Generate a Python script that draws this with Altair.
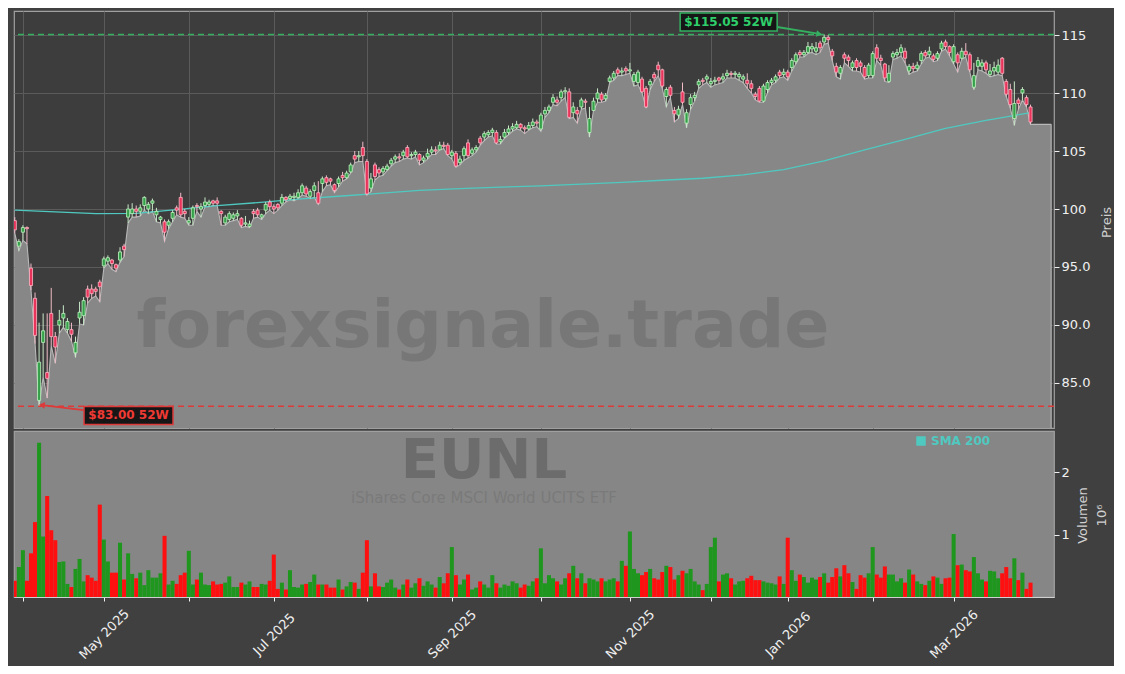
import altair as alt
import pandas as pd

# ---------------- data ----------------
OPEN = [
    99.0, 96.8, 98.0, 98.4, 94.9, 92.3, 83.5, 88.5, 85.9, 91.0,
    89.0, 90.0, 90.6, 89.6, 89.6, 87.6, 90.6, 90.8, 93.1, 93.1,
    93.1, 93.7, 95.1, 95.5, 95.6, 95.2, 95.6, 96.8, 99.3, 99.6,
    100.0, 99.8, 100.3, 100.0, 100.5, 99.5, 99.1, 98.9, 98.6, 99.2,
    100.1, 101.0, 99.8, 98.8, 99.2, 100.3, 100.0, 100.3, 100.4, 100.7,
    100.7, 99.8, 98.8, 99.1, 99.2, 99.4, 99.2, 98.7, 98.5, 99.8,
    99.9, 99.3, 99.9, 100.6, 100.2, 100.4, 100.5, 101.0, 100.9, 101.0,
    101.0, 101.4, 101.8, 101.1, 101.6, 101.4, 102.2, 102.7, 102.6, 102.1,
    102.2, 102.9, 102.7, 103.2, 104.6, 104.5, 105.3, 104.1, 101.8, 103.8,
    103.4, 103.2, 103.4, 103.9, 104.3, 104.5, 104.6, 105.3, 104.6, 104.7,
    104.7, 104.2, 104.5, 104.9, 105.1, 105.1, 105.5, 105.5, 104.6, 104.8,
    104.0, 104.6, 105.7, 104.8, 105.1, 106.1, 106.2, 106.4, 106.6, 106.6,
    105.8, 106.2, 106.6, 106.9, 107.0, 107.3, 107.0, 106.9, 107.2, 107.5,
    106.9, 108.2, 108.5, 109.2, 109.4, 109.6, 110.1, 110.1, 108.3, 108.5,
    108.8, 109.3, 106.6, 108.5, 109.5, 109.9, 109.5, 111.0, 111.3, 112.0,
    111.8, 112.1, 111.9, 111.0, 110.9, 111.2, 110.4, 110.7, 111.6, 112.4,
    112.0, 109.7, 110.5, 108.5, 108.1, 110.1, 107.4, 109.0, 109.6, 110.7,
    111.1, 111.2, 110.8, 111.0, 111.3, 111.2, 111.5, 111.7, 111.6, 111.4,
    111.2, 111.1, 110.8, 109.9, 110.4, 109.3, 110.3, 110.9, 111.1, 111.8,
    111.6, 111.8, 112.2, 112.7, 113.5, 113.3, 113.5, 113.8, 113.6, 114.3,
    114.4, 114.8, 113.6, 112.3, 111.7, 113.3, 113.1, 112.2, 112.8, 112.6,
    112.2, 111.5, 111.5, 113.9, 113.0, 112.5, 111.0, 113.1, 113.3, 113.5,
    113.6, 111.9, 112.3, 112.1, 112.8, 113.5, 113.3, 113.2, 113.0, 113.8,
    114.4, 114.0, 112.7, 113.3, 113.0, 113.6, 113.3, 110.5, 112.3, 112.3,
    112.6, 111.6, 111.9, 111.8, 113.0, 111.0, 110.3, 107.8, 109.4, 110.0,
    109.6, 108.8,
]
HIGH = [
    99.3, 97.4, 98.6, 98.5, 95.3, 92.8, 90.2, 91.0, 91.0, 93.2,
    89.4, 91.3, 91.7, 90.6, 90.2, 89.0, 92.0, 92.4, 93.4, 93.5,
    93.3, 93.9, 95.9, 96.0, 95.7, 95.3, 96.7, 97.0, 100.4, 100.5,
    100.3, 100.4, 101.1, 100.6, 100.9, 100.1, 99.4, 99.1, 99.1, 99.9,
    100.3, 101.4, 100.0, 99.3, 100.3, 100.5, 100.5, 101.0, 100.8, 100.8,
    101.0, 99.9, 99.5, 99.8, 99.7, 99.9, 99.3, 99.4, 99.0, 100.0,
    100.1, 99.6, 100.6, 100.8, 100.4, 100.5, 101.3, 101.1, 101.3, 101.4,
    101.7, 102.2, 102.0, 101.7, 102.3, 102.4, 102.8, 102.9, 102.7, 102.2,
    102.8, 103.2, 103.3, 104.0, 105.0, 105.0, 105.8, 104.3, 103.1, 104.0,
    103.6, 103.7, 103.9, 104.4, 104.7, 104.8, 105.1, 105.5, 104.9, 105.1,
    104.8, 104.6, 105.2, 105.4, 105.4, 105.8, 105.8, 105.7, 105.1, 105.0,
    104.6, 105.4, 106.0, 105.3, 105.5, 106.3, 106.7, 106.8, 107.0, 106.8,
    106.3, 106.9, 107.2, 107.4, 107.6, 107.4, 107.2, 107.5, 107.8, 107.7,
    108.3, 108.8, 109.0, 109.9, 109.7, 110.3, 110.5, 110.4, 109.2, 108.8,
    109.6, 109.5, 108.8, 109.6, 110.4, 110.1, 110.0, 111.5, 111.9, 112.2,
    112.2, 112.3, 112.6, 111.8, 112.0, 111.4, 110.6, 111.2, 111.8, 112.7,
    112.1, 110.5, 110.7, 108.8, 108.9, 110.9, 108.6, 109.9, 110.1, 111.2,
    111.3, 111.6, 111.3, 111.4, 111.4, 111.7, 112.0, 111.9, 111.9, 111.8,
    111.6, 111.7, 111.1, 110.1, 110.6, 110.8, 111.1, 111.3, 111.6, 112.0,
    112.1, 112.0, 113.0, 113.5, 113.7, 113.7, 114.4, 114.3, 114.4, 114.5,
    115.05, 115.0, 113.8, 112.6, 112.4, 113.5, 113.3, 112.8, 113.0, 112.8,
    112.4, 112.6, 113.6, 114.2, 113.3, 112.6, 112.4, 113.6, 113.8, 114.2,
    113.9, 112.5, 112.6, 112.7, 113.6, 113.7, 114.0, 113.4, 113.6, 114.5,
    114.6, 114.1, 114.2, 113.5, 113.9, 114.3, 113.5, 112.6, 113.1, 112.9,
    112.8, 112.5, 112.7, 112.9, 113.1, 111.2, 110.8, 111.0, 109.6, 110.5,
    109.8, 109.0,
]
LOW = [
    97.9, 96.4, 97.3, 97.0, 93.0, 88.4, 83.0, 85.5, 83.7, 88.2,
    86.7, 89.3, 89.8, 89.3, 88.6, 87.2, 90.1, 90.0, 91.9, 92.3,
    92.5, 92.0, 94.9, 95.3, 94.8, 94.6, 95.4, 95.9, 98.8, 99.3,
    99.3, 99.4, 99.9, 99.6, 99.8, 98.9, 98.8, 97.2, 98.3, 98.9,
    99.5, 99.3, 99.2, 98.6, 98.6, 99.8, 99.3, 100.2, 100.2, 100.3,
    100.3, 98.6, 98.6, 98.9, 99.0, 99.1, 98.4, 98.5, 98.4, 99.2,
    99.3, 99.1, 99.6, 99.9, 99.6, 99.9, 100.3, 100.6, 100.8, 100.7,
    100.9, 101.2, 101.1, 100.9, 101.0, 100.4, 101.5, 102.0, 102.1, 101.4,
    101.9, 102.4, 102.6, 103.1, 104.0, 104.1, 104.1, 101.2, 101.5, 102.5,
    102.8, 102.9, 103.3, 103.7, 104.0, 104.1, 104.3, 104.4, 104.3, 104.5,
    103.8, 104.0, 104.3, 104.7, 104.7, 105.1, 105.2, 104.6, 104.3, 103.6,
    103.8, 104.2, 104.4, 104.6, 104.9, 105.5, 105.9, 106.2, 106.3, 105.6,
    105.6, 106.1, 106.4, 106.7, 106.9, 106.8, 106.5, 106.8, 107.0, 107.1,
    106.7, 107.9, 108.3, 109.0, 108.9, 109.3, 109.6, 107.8, 107.9, 107.4,
    108.6, 108.7, 106.2, 108.5, 109.2, 109.2, 109.3, 110.9, 111.1, 111.5,
    111.5, 111.6, 111.7, 110.6, 110.7, 110.0, 108.7, 110.3, 111.0, 111.5,
    110.4, 108.8, 109.6, 107.5, 107.8, 109.0, 107.0, 108.6, 109.3, 110.4,
    110.7, 110.9, 110.5, 110.7, 110.8, 110.9, 111.3, 111.3, 111.3, 111.1,
    110.9, 110.4, 110.0, 109.4, 109.2, 109.2, 110.0, 110.7, 110.9, 111.3,
    111.4, 111.1, 111.9, 112.5, 113.1, 113.1, 113.4, 113.5, 113.3, 113.5,
    114.2, 114.3, 112.8, 111.4, 111.2, 112.6, 112.3, 111.9, 111.9, 111.8,
    111.2, 111.3, 111.3, 112.8, 112.4, 111.0, 110.9, 112.9, 113.0, 113.2,
    112.6, 111.6, 111.8, 111.9, 112.5, 113.0, 113.1, 112.7, 112.8, 113.6,
    113.8, 113.2, 112.5, 111.8, 112.9, 113.1, 111.8, 110.3, 112.0, 111.9,
    111.7, 111.4, 111.5, 111.6, 111.5, 109.7, 108.7, 107.2, 108.6, 109.4,
    108.8, 107.3,
]
CLOSE = [
    98.2, 97.2, 98.4, 98.3, 93.4, 89.1, 86.8, 89.5, 85.4, 89.0,
    88.1, 90.4, 91.0, 90.3, 89.2, 88.5, 91.1, 92.1, 92.4, 92.7,
    92.9, 93.3, 95.7, 95.8, 95.3, 94.9, 96.3, 96.5, 100.0, 100.0,
    99.8, 100.1, 101.0, 100.4, 100.7, 99.8, 99.3, 98.0, 98.9, 99.7,
    99.9, 99.5, 99.6, 99.0, 100.1, 100.2, 100.2, 100.6, 100.6, 100.5,
    100.5, 99.6, 99.3, 99.6, 99.5, 99.6, 98.6, 98.8, 98.7, 99.6,
    99.5, 99.5, 100.4, 100.2, 100.0, 100.1, 101.0, 100.8, 101.1, 101.1,
    101.4, 102.0, 101.3, 101.5, 102.0, 100.5, 102.6, 102.3, 102.4, 101.6,
    102.6, 102.7, 103.1, 103.8, 104.3, 104.6, 104.6, 101.3, 102.6, 102.8,
    103.1, 103.5, 103.7, 104.2, 104.5, 104.4, 104.9, 104.5, 104.7, 104.9,
    104.2, 104.4, 104.8, 105.1, 105.0, 105.5, 105.4, 104.7, 104.9, 103.7,
    104.3, 105.2, 104.6, 105.1, 105.3, 105.7, 106.5, 106.6, 106.8, 105.7,
    106.0, 106.6, 106.9, 107.1, 107.3, 107.0, 106.9, 107.2, 107.5, 107.4,
    108.1, 108.5, 108.8, 109.6, 109.2, 110.1, 110.2, 107.9, 108.8, 108.2,
    109.4, 109.2, 107.8, 109.3, 110.0, 109.4, 109.8, 111.3, 111.7, 111.7,
    111.9, 111.9, 112.0, 111.6, 111.8, 110.1, 108.8, 111.0, 111.3, 112.0,
    110.6, 110.3, 109.8, 108.2, 108.6, 109.2, 108.3, 109.6, 109.8, 111.0,
    111.0, 111.4, 111.0, 111.1, 111.1, 111.4, 111.7, 111.6, 111.7, 111.6,
    111.4, 110.8, 110.4, 109.7, 109.3, 110.6, 110.9, 111.1, 111.4, 111.5,
    111.8, 111.4, 112.8, 113.3, 113.3, 113.5, 114.0, 114.0, 113.9, 113.9,
    114.8, 114.6, 113.2, 111.8, 112.2, 113.0, 112.8, 112.6, 112.2, 112.3,
    111.4, 112.4, 113.4, 113.0, 112.8, 111.3, 111.7, 113.4, 113.5, 113.9,
    113.0, 112.3, 112.1, 112.4, 113.4, 113.2, 113.6, 112.9, 113.4, 114.3,
    114.0, 113.5, 114.0, 112.6, 113.6, 113.3, 112.0, 111.5, 112.8, 112.6,
    112.0, 111.9, 112.2, 112.4, 111.7, 109.9, 109.0, 109.1, 109.1, 110.3,
    109.0, 107.5,
]
VOLUME_M = [
    0.26, 0.48, 0.75, 0.26, 0.70, 1.20, 2.47, 0.97, 1.62, 1.07,
    0.91, 0.56, 0.57, 0.21, 0.16, 0.45, 0.61, 0.25, 0.35, 0.31,
    0.26, 1.48, 0.92, 0.57, 0.39, 0.39, 0.87, 0.28, 0.70, 0.37,
    0.30, 0.39, 0.19, 0.43, 0.31, 0.31, 0.38, 0.98, 0.20, 0.26,
    0.21, 0.35, 0.39, 0.74, 0.20, 0.28, 0.39, 0.20, 0.19, 0.25,
    0.20, 0.21, 0.23, 0.33, 0.16, 0.16, 0.23, 0.20, 0.25, 0.16,
    0.16, 0.21, 0.20, 0.26, 0.68, 0.13, 0.23, 0.12, 0.43, 0.16,
    0.15, 0.20, 0.21, 0.24, 0.36, 0.20, 0.20, 0.20, 0.15, 0.15,
    0.28, 0.12, 0.17, 0.24, 0.23, 0.13, 0.39, 0.91, 0.17, 0.38,
    0.17, 0.16, 0.23, 0.28, 0.15, 0.12, 0.20, 0.28, 0.15, 0.22,
    0.30, 0.18, 0.25, 0.20, 0.15, 0.32, 0.22, 0.38, 0.80, 0.35,
    0.20, 0.28, 0.36, 0.12, 0.15, 0.25, 0.20, 0.15, 0.35, 0.22,
    0.15, 0.20, 0.18, 0.25, 0.22, 0.15, 0.20, 0.18, 0.25, 0.30,
    0.78, 0.22, 0.35, 0.30, 0.25, 0.20, 0.30, 0.38, 0.50, 0.30,
    0.38, 0.22, 0.30, 0.28, 0.25, 0.30, 0.25, 0.28, 0.30, 0.25,
    0.58, 0.50, 1.05, 0.45, 0.38, 0.35, 0.40, 0.45, 0.30, 0.28,
    0.40, 0.50, 0.48, 0.28, 0.35, 0.42, 0.38, 0.45, 0.25, 0.20,
    0.11, 0.21, 0.80, 0.95, 0.25, 0.36, 0.38, 0.30, 0.20, 0.25,
    0.26, 0.30, 0.34, 0.27, 0.27, 0.25, 0.23, 0.22, 0.20, 0.33,
    0.21, 0.95, 0.43, 0.26, 0.36, 0.32, 0.23, 0.31, 0.28, 0.32,
    0.38, 0.23, 0.32, 0.46, 0.33, 0.51, 0.38, 0.24, 0.13, 0.35,
    0.31, 0.38, 0.80, 0.36, 0.31, 0.49, 0.36, 0.36, 0.25, 0.30,
    0.23, 0.44, 0.36, 0.25, 0.21, 0.19, 0.26, 0.33, 0.31, 0.21,
    0.30, 0.31, 1.01, 0.51, 0.52, 0.43, 0.41, 0.64, 0.38, 0.28,
    0.25, 0.42, 0.41, 0.30, 0.38, 0.48, 0.30, 0.62, 0.27, 0.39,
    0.13, 0.23,
]
SMA_IDX = [0, 10, 20, 30, 40, 50, 60, 70, 80, 90, 100, 110, 120, 130, 140,
           150, 160, 170, 180, 190, 200, 210, 220, 230, 240, 251]
SMA_VAL = [99.9, 99.75, 99.6, 99.62, 99.95, 100.3, 100.55, 100.85, 101.1, 101.35,
           101.6, 101.75, 101.88, 102.0, 102.15, 102.3, 102.48, 102.65, 102.95, 103.4,
           104.15, 105.1, 106.0, 106.95, 107.65, 108.3]

FIRST_DAY = "2025-03-28"
HOLIDAYS = ["2025-04-18", "2025-04-21", "2025-05-01", "2025-10-03", "2025-12-24",
            "2025-12-25", "2025-12-26", "2025-12-31", "2026-01-01"]
MONTHS = ["2025-04-01", "2025-05-01", "2025-06-01", "2025-07-01", "2025-08-01",
          "2025-09-01", "2025-10-01", "2025-11-01", "2025-12-01", "2026-01-01",
          "2026-02-01", "2026-03-01"]
MONTH_LABELS = ["", "May 2025", "", "Jul 2025", "", "Sep 2025", "", "Nov 2025",
                "", "Jan 2026", "", "Mar 2026"]
PRICE_TICKS = [85, 90, 95, 100, 105, 110, 115]
VOL_TICKS = [1, 2]
TICKER = "EUNL"
NAME = "iShares Core MSCI World UCITS ETF"
SITE = "forexsignale.trade"

# ---------------- styles / layout ----------------
FONT = "DejaVu Sans"
BG = "#404040"
PLOT_BG = "#3d3d3d"
GRID = "#5b5b5b"
FRAME = "#a0a0a0"
AREA = "#878787"
AREA_LINE = "#b8b8b8"
UP_FILL, UP_EDGE, UP_WICK = "#35a04a", "#c2f5c2", "#c8e8c8"
DN_FILL, DN_EDGE, DN_WICK = "#e8335a", "#ffb6c4", "#efbcc8"
SMA_C = "#4fc9c0"
HI_C, HI_TXT = "#35b060", "#2fcf6b"
LO_C, LO_TXT = "#dd3a3a", "#ee3a34"
VOL_BG = "#868686"
VG, VR = "#1f971f", "#ff1010"
TXT = "#f0f0f0"

W, HP, HV = 1040, 417, 166
X_DOM = [-0.2, 256.8]
P_DOM = [81.12, 117.07]
V_DOM = [0, 2.66]
AREA_END = 256.1
HI_BOX = (176.4, 116.12)
LO_BOX = (28.1, 82.2)
HI_ARROW = (188.4, 115.69, 198.8, 115.09)
LO_ARROW = (17.0, 82.67, 6.7, 83.1)

# ---------------- derived tables ----------------
N = len(CLOSE)
dates = pd.bdate_range(FIRST_DAY, periods=N, freq="C", holidays=HOLIDAYS)
df = pd.DataFrame({"i": list(range(N)), "o": OPEN, "h": HIGH, "l": LOW,
                   "c": CLOSE, "v": VOLUME_M})

tick_idx = [int((dates >= pd.Timestamp(m)).argmax()) for m in MONTHS]
label_expr = "''"
for k, lab in reversed(list(zip(tick_idx, MONTH_LABELS))):
    label_expr = f"datum.value == {k} ? '{lab}' : {label_expr}"

HI52 = max(HIGH)
LO52 = min(LOW)

xs = alt.Scale(domain=X_DOM, nice=False, zero=False)
ps = alt.Scale(domain=P_DOM, nice=False, zero=False)
up = alt.datum.c >= alt.datum.o

x_grid_axis = alt.Axis(values=tick_idx, labels=False, ticks=False, domain=False,
                       grid=True, gridColor=GRID, title=None, minExtent=0, maxExtent=0)
price_axis = alt.Axis(orient="right", values=PRICE_TICKS,
                      labelExpr="datum.value < 100 ? format(datum.value, '.1f') : format(datum.value, 'd')",
                      grid=True, gridColor=GRID, title="Preis", titleAngle=270,
                      titleBaseline="middle", titleAlign="center", titleX=52, titleY=211,
                      tickSize=5)

area_df = pd.DataFrame({"i": list(range(N)) + [AREA_END], "l": LOW + [LOW[-1]]})
area = alt.Chart(area_df).mark_area(
    color=AREA, opacity=1, clip=True,
    line={"color": AREA_LINE, "strokeWidth": 1.1}).encode(
    x=alt.X("i:Q", scale=xs, axis=x_grid_axis),
    y=alt.Y("l:Q", scale=ps, axis=price_axis),
    y2=alt.datum(P_DOM[0]),
)
edge_df = pd.DataFrame({"i": [AREA_END], "y": [LOW[-1]], "y2": [P_DOM[0]]})
edge = alt.Chart(edge_df).mark_rule(color=AREA_LINE, strokeWidth=1.1).encode(
    x="i:Q", y="y:Q", y2="y2:Q")

wick = alt.Chart(df).mark_rule(strokeWidth=1, clip=True).encode(
    x="i:Q", y="l:Q", y2="h:Q",
    color=alt.condition(up, alt.value(UP_WICK), alt.value(DN_WICK)))

body = alt.Chart(df).transform_calculate(
    x0="datum.i - 0.38", x1="datum.i + 0.38").mark_bar(strokeWidth=0.8, clip=True).encode(
    x="x0:Q", x2="x1:Q", y="o:Q", y2="c:Q",
    fill=alt.condition(up, alt.value(UP_FILL), alt.value(DN_FILL)),
    stroke=alt.condition(up, alt.value(UP_EDGE), alt.value(DN_EDGE)))

sma_df = pd.DataFrame({"i": SMA_IDX, "s": SMA_VAL})
sma = alt.Chart(sma_df).mark_line(color=SMA_C, strokeWidth=1.3).encode(x="i:Q", y="s:Q")

hi_line = alt.Chart(pd.DataFrame({"y": [HI52]})).mark_rule(
    color=HI_C, strokeDash=[6, 4], strokeWidth=1.5).encode(y="y:Q")
lo_line = alt.Chart(pd.DataFrame({"y": [LO52]})).mark_rule(
    color=LO_C, strokeDash=[6, 4], strokeWidth=1.5).encode(y="y:Q")


def label_layers(box, arrow, text, txt_col, edge_col, width, point_shape, angle):
    half = 9.0 / (width / 2.0)
    path = f"M-1,-{half:.4f}L1,-{half:.4f}L1,{half:.4f}L-1,{half:.4f}Z"
    bdf = pd.DataFrame({"x": [box[0]], "y": [box[1]], "t": [text]})
    boxm = alt.Chart(bdf).mark_point(shape=path, size=width * width, filled=True,
                                     fill="#161616", stroke=edge_col, strokeWidth=1.5,
                                     opacity=1).encode(x="x:Q", y="y:Q")
    txtm = alt.Chart(bdf).mark_text(font=FONT, fontSize=12, fontWeight="bold",
                                    color=txt_col, baseline="middle").encode(
        x="x:Q", y="y:Q", text="t:N")
    adf = pd.DataFrame({"x": [arrow[0]], "y": [arrow[1]], "x2": [arrow[2]], "y2": [arrow[3]]})
    line = alt.Chart(adf).mark_rule(color=edge_col, strokeWidth=1.8).encode(
        x="x:Q", y="y:Q", x2="x2:Q", y2="y2:Q")
    head = alt.Chart(adf).mark_point(shape=point_shape, angle=angle, size=45, filled=True,
                                     color=edge_col, opacity=1).encode(x="x2:Q", y="y2:Q")
    return [line, head, boxm, txtm]


hi_layers = label_layers(HI_BOX, HI_ARROW, f"${HI52:.2f} 52W", HI_TXT, HI_C, 97,
                         "triangle-right", 9)
lo_layers = label_layers(LO_BOX, LO_ARROW, f"${LO52:.2f} 52W", LO_TXT, LO_C, 89,
                         "triangle-left", 7)

site_mark = alt.Chart(pd.DataFrame({"t": [SITE]})).mark_text(
    font=FONT, fontSize=66.5, fontWeight="bold", color="#555555", opacity=0.3,
    baseline="middle", align="center").encode(
    x=alt.value(469), y=alt.value(316), text="t:N")

price = alt.layer(area, edge, site_mark, sma, wick, body, hi_line, lo_line,
                  *hi_layers, *lo_layers).properties(
    width=W, height=HP,
    view=alt.ViewBackground(fill=PLOT_BG, stroke=FRAME, strokeWidth=1.2))

# ---------------- volume panel ----------------
x_axis = alt.Axis(values=tick_idx, labelExpr=label_expr, labelAngle=315, labelAlign="center",
                  labelBaseline="middle", labelPadding=33, tickSize=4, grid=False,
                  domain=True, domainColor="#d0d0d0", title=None, labelOverlap=False,
                  labelFontSize=13)
vol_axis = alt.Axis(orient="right", values=VOL_TICKS, format="d", grid=False, tickSize=5,
                    title=["Volumen", "10⁶"], titleAngle=270, titleBaseline="middle",
                    titleAlign="center", titleX=28, titleY=84, titleLineHeight=19)

vol = alt.Chart(df).transform_calculate(
    x0="datum.i - 0.5", x1="datum.i + 0.5").mark_bar(clip=True).encode(
    x=alt.X("x0:Q", scale=xs, axis=x_axis), x2="x1:Q",
    y=alt.Y("v:Q", scale=alt.Scale(domain=V_DOM, nice=False), axis=vol_axis),
    y2=alt.datum(0),
    color=alt.condition(up, alt.value(VG), alt.value(VR)))

tick_mark = alt.Chart(pd.DataFrame({"t": [TICKER]})).mark_text(
    font=FONT, fontSize=56, fontWeight="bold", color="#6c6c6c", baseline="middle",
    align="center").encode(x=alt.value(470), y=alt.value(30), text="t:N")
name_mark = alt.Chart(pd.DataFrame({"t": [NAME]})).mark_text(
    font=FONT, fontSize=15, color="#7a7a7a", baseline="middle", align="center").encode(
    x=alt.value(470), y=alt.value(67), text="t:N")
leg_sq = alt.Chart(pd.DataFrame({"t": ["SMA 200"]})).mark_point(
    shape="square", filled=True, size=90, color=SMA_C, opacity=1).encode(
    x=alt.value(907), y=alt.value(10))
leg_tx = alt.Chart(pd.DataFrame({"t": ["SMA 200"]})).mark_text(
    font=FONT, fontSize=12, fontWeight="bold", color=SMA_C, align="left",
    baseline="middle").encode(x=alt.value(917), y=alt.value(10), text="t:N")

volume = alt.layer(tick_mark, name_mark, vol, leg_sq, leg_tx).properties(
    width=W, height=HV,
    view=alt.ViewBackground(fill=VOL_BG, stroke=FRAME, strokeWidth=1.2))

chart = alt.vconcat(price, volume, spacing=0,
                    padding={"left": 3, "top": 1, "right": 0, "bottom": 3},
                    background=BG).configure(
    font=FONT,
).configure_axis(
    labelColor=TXT, tickColor=TXT, labelFont=FONT, titleFont=FONT, labelFontSize=13,
    titleFontSize=13, titleColor="#d0d0d0", titleFontWeight="normal", domain=False,
).configure_axisBottom(domain=True)

chart.save("out.html", embed_options={"renderer": "svg", "actions": False})
